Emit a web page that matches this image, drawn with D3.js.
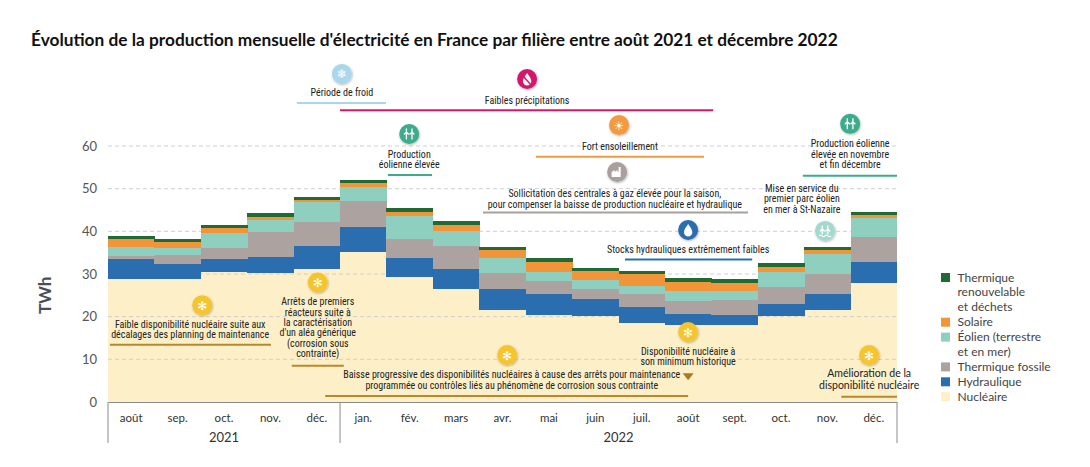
<!DOCTYPE html>
<html>
<head>
<meta charset="utf-8">
<script src="https://cdn.jsdelivr.net/npm/d3@7"></script>
<style>
  body { margin: 0; background: #fff; }
  svg text { font-family: Lato, "Noto Sans", sans-serif; }
  .ann { font-family: "Liberation Sans Narrow", "Roboto Condensed", "DejaVu Sans Condensed", sans-serif; font-stretch: condensed; font-size: 10px; fill: #222; }
  .ann2 { font-size: 10.5px; fill: #222; }
</style>
</head>
<body>
<div id="chart"></div>
<script>
// months, Aug 2021 -> Dec 2022
const months = ["août", "sep.", "oct.", "nov.", "déc.", "jan.", "fév.", "mars", "avr.", "mai",
  "juin", "juil.", "août", "sept.", "oct.", "nov.", "déc."];
const years = [{label: "2021", from: 0, to: 5}, {label: "2022", from: 5, to: 17}];
const yTicks = [0, 10, 20, 30, 40, 50, 60];

// TWh per month
const nucleaire   = [28.8, 28.8, 30.5, 30.2, 31.2, 35.1, 29.4, 26.6, 21.6, 20.4, 20.2, 18.6, 18.0, 18.0, 20.2, 21.6, 27.8];
const hydraulique = [4.6, 3.5, 2.9, 3.9, 5.4, 5.8, 4.4, 4.6, 5.0, 4.9, 3.9, 3.7, 2.6, 2.4, 2.8, 3.6, 5.1];
const fossile     = [0.9, 2.1, 2.6, 5.8, 5.7, 6.3, 4.4, 5.4, 3.6, 3.1, 2.5, 3.0, 3.1, 3.5, 3.9, 4.8, 5.8];
const eolien      = [2.1, 1.8, 3.5, 2.8, 4.5, 3.3, 5.5, 3.5, 3.6, 2.0, 2.0, 2.0, 2.2, 2.2, 3.5, 4.8, 4.5];
const solaire     = [1.9, 1.4, 1.2, 0.7, 0.5, 0.8, 0.9, 1.4, 1.8, 2.3, 2.1, 2.6, 2.3, 1.9, 1.2, 0.8, 0.6];
const renouv      = [0.7, 0.6, 0.9, 0.8, 0.8, 0.7, 0.8, 0.9, 0.8, 1.0, 0.6, 0.8, 0.8, 0.8, 0.9, 0.8, 0.8];

const series = [
  {key: "nucleaire", label: ["Nucléaire"], color: "#fdefc8", values: nucleaire},
  {key: "hydraulique", label: ["Hydraulique"], color: "#2b6eb0", values: hydraulique},
  {key: "fossile", label: ["Thermique fossile"], color: "#aca2a0", values: fossile},
  {key: "eolien", label: ["Éolien (terrestre", "et en mer)"], color: "#8fcfc0", values: eolien},
  {key: "solaire", label: ["Solaire"], color: "#f29538", values: solaire},
  {key: "renouv", label: ["Thermique", "renouvelable", "et déchets"], color: "#1f6a35", values: renouv}
];

// annotations, positioned in month units (x) and TWh (y)
const annotations = [
  {icon: "froid", color: "#a9d8ec", at: [5.04, 76.9], text: ["Période de froid"], textAt: [5.04, 71.7], rule: [4.07, 5.99, 70.1]},
  {icon: "nodrop", color: "#d6186c", at: [9.03, 75.7], text: ["Faibles précipitations"], textAt: [9.03, 69.8], rule: [5.0, 13.04, 68.4]},
  {icon: "wind", color: "#3dab8c", at: [6.49, 62.8], text: ["Production", "éolienne élevée"], textAt: [6.49, 57.3], rule: [6.03, 6.98, 53.2]},
  {icon: "sun", color: "#f39a3f", at: [11.01, 64.9], text: ["Fort ensoleillement"], textAt: [11.03, 59.1], rule: [9.22, 12.84, 57.5]},
  {icon: "factory", color: "#a9a09d", at: [10.97, 53.9], text: ["Sollicitation des centrales à  gaz élevée pour la saison,", "pour compenser la baisse de production nucléaire et hydraulique"], textAt: [10.92, 48.1], rule: [8.08, 13.79, 44.4], lh: 11},
  {icon: "drop", color: "#2b6eb0", at: [12.5, 40.3], text: ["Stocks hydrauliques extrêmement faibles"], textAt: [12.5, 34.9], rule: [11.14, 13.88, 33.4]},
  {icon: "wind", color: "#3dab8c", at: [15.99, 65.2], text: ["Production éolienne", "élevée en novembre", "et fin décembre"], textAt: [15.99, 59.8], rule: [14.97, 17.0, 53.0], lh: 10.8},
  {icon: "offshore", color: "#a3d9cf", at: [15.45, 40.1], text: ["Mise en service du", "premier parc éolien", "en mer à St-Nazaire"], textAt: [14.95, 49.3], lh: 10.8},
  {icon: "nuc", color: "#f6c52f", at: [2.03, 22.7], text: ["Faible disponibilité nucléaire suite aux", "décalages des planning de maintenance"], textAt: [1.77, 17.4], rule: [0.04, 3.51, 13.4], ruleColor: "#b8882c"},
  {icon: "nuc", color: "#f6c52f", at: [4.52, 28.0], text: ["Arrêts de premiers", "réacteurs suite à", "la caractérisation", "d'un aléa générique", "(corrosion sous", "contrainte)"], textAt: [4.52, 22.7], rule: [3.96, 5.08, 8.5], ruleColor: "#b8882c", lh: 10.4},
  {icon: "nuc", color: "#f6c52f", at: [8.6, 11.0], text: ["Baisse progressive des disponibilités nucléaires à cause des arrêts pour maintenance", "programmée ou contrôles liés au phénomène de corrosion sous contrainte"], textAt: [8.7, 5.55], rule: [4.68, 12.5, 1.4], ruleColor: "#b8882c", lh: 10.7},
  {icon: "nuc", color: "#f6c52f", at: [12.5, 16.4], text: ["Disponibilité nucléaire à", "son minimum historique"], textAt: [12.5, 11.0], arrow: [12.5, 5.9], lh: 10},
  {icon: "nuc", color: "#f6c52f", at: [16.4, 11.0], text: ["Amélioration de la", "disponibilité nucléaire"], textAt: [16.4, 5.75], rule: [15.8, 17.0, 1.25], ruleColor: "#b8882c", lh: 11.2, cls: "ann2"}
];

const W = 1090, H = 467;
const margin = {top: 146, right: 193, bottom: 65, left: 108};
const width = W - margin.left - margin.right;
const height = H - margin.top - margin.bottom;

const svg = d3.select("#chart").append("svg")
  .attr("width", W).attr("height", H);

const defs = svg.append("defs");
const shadow = defs.append("filter").attr("id", "shadow")
  .attr("x", "-50%").attr("y", "-50%").attr("width", "200%").attr("height", "200%");
shadow.append("feDropShadow").attr("dx", 0.6).attr("dy", 1).attr("stdDeviation", 0.9)
  .attr("flood-color", "#000").attr("flood-opacity", 0.3);

svg.append("text")
  .attr("x", 31).attr("y", 46)
  .style("font-size", "17.3px").style("font-weight", "bold").style("fill", "#111")
  .text("Évolution de la production mensuelle d'électricité en France par filière entre août 2021 et décembre 2022");

const g = svg.append("g").attr("transform", `translate(${margin.left},${margin.top})`);

const x = d3.scaleBand().domain(d3.range(months.length)).range([0, width]).padding(0);
const y = d3.scaleLinear().domain([0, 60]).range([height, 0]);
const xu = u => u * x.step();

const table = months.map((m, i) => {
  const row = {};
  series.forEach(s => { row[s.key] = s.values[i]; });
  return row;
});
const stacked = d3.stack().keys(series.map(s => s.key))(table);

function drawLayer(layer, s) {
  g.append("g").selectAll("rect")
    .data(layer)
    .join("rect")
    .attr("x", (d, i) => x(i))
    .attr("width", x.bandwidth() + 0.4)
    .attr("y", d => y(d[1]))
    .attr("height", d => y(d[0]) - y(d[1]))
    .attr("fill", s.color)
    .attr("shape-rendering", "crispEdges");
}

drawLayer(stacked[0], series[0]);

// dashed grid, above nuclear layer
g.append("g").selectAll("line")
  .data(yTicks.filter(t => t > 0))
  .join("line")
  .attr("x1", 0).attr("x2", width)
  .attr("y1", d => y(d)).attr("y2", d => y(d))
  .attr("stroke", "#cfcfcf").attr("stroke-dasharray", "4,3");

stacked.slice(1).forEach((layer, k) => drawLayer(layer, series[k + 1]));

// y axis
const yAxis = g.append("g")
  .call(d3.axisLeft(y).tickValues(yTicks).tickSize(0).tickPadding(11));
yAxis.select(".domain").remove();
yAxis.selectAll("text").style("font-size", "13px").style("fill", "#555").style("font-family", "Lato, sans-serif");

svg.append("text")
  .attr("transform", `translate(51,${margin.top + y(25)}) rotate(-90)`)
  .attr("text-anchor", "middle")
  .style("font-size", "17px").style("font-weight", "bold").style("fill", "#4a4e5a")
  .text("TWh");

// x axis
const xAxis = g.append("g").attr("transform", `translate(0,${height})`)
  .call(d3.axisBottom(x).tickFormat(i => months[i]).tickSize(0).tickPadding(12));
xAxis.select(".domain").attr("stroke", "#8a8a8a");
xAxis.selectAll("text").style("font-size", "11.5px").style("fill", "#333").style("font-family", "Lato, sans-serif");

const seps = [0, 5, 17];
g.append("g").selectAll("line")
  .data(seps)
  .join("line")
  .attr("x1", d => xu(d)).attr("x2", d => xu(d))
  .attr("y1", height).attr("y2", height + 41)
  .attr("stroke", "#8a8a8a");

g.append("g").selectAll("text")
  .data(years)
  .join("text")
  .attr("x", d => (xu(d.from) + xu(d.to)) / 2)
  .attr("y", height + 40)
  .attr("text-anchor", "middle")
  .style("font-size", "13px").style("fill", "#333")
  .text(d => d.label);

// legend
const legendItems = series.slice().reverse();
const legend = svg.append("g").attr("transform", "translate(941,272)");
let row = 0;
legendItems.forEach(s => {
  legend.append("rect")
    .attr("x", 0).attr("y", row * 14.9 + 1)
    .attr("width", 9).attr("height", 9)
    .attr("fill", s.color);
  s.label.forEach((line, j) => {
    legend.append("text")
      .attr("x", 16.5).attr("y", (row + j) * 14.9 + 9.5)
      .style("font-size", "12px").style("fill", "#444")
      .text(line);
  });
  row += s.label.length;
});

// icons
function drawIcon(sel, type) {
  const w = "#fff";
  if (type === "froid" || type === "nuc" || type === "sun") {
    const glyph = {froid: "\u2744", nuc: "\u273B", sun: "\u2600"}[type];
    sel.append("text").attr("text-anchor", "middle").attr("y", 4.5)
      .style("font-family", "DejaVu Sans, sans-serif").style("font-size", "12px").style("fill", w)
      .text(glyph);
  } else if (type === "drop" || type === "nodrop") {
    sel.append("path")
      .attr("d", "M0,-6 C2.5,-2.5 4.2,-0.2 4.2,2.2 A4.2,4.2 0 0 1 -4.2,2.2 C-4.2,-0.2 -2.5,-2.5 0,-6Z")
      .attr("fill", w);
    if (type === "nodrop") {
      sel.append("line").attr("x1", -4).attr("y1", -3).attr("x2", 4).attr("y2", 6)
        .attr("stroke", sel.datum().color).attr("stroke-width", 1.5);
    }
  } else if (type === "wind" || type === "offshore") {
    const base = type === "offshore" ? 3 : 5.5;
    [-2.8, 2.8].forEach(cx => {
      sel.append("path")
        .attr("d", `M${cx},${base} V-2 M${cx},-2 L${cx - 2.4},0.5 M${cx},-2 L${cx + 2.4},0.5 M${cx},-2 V-5.5`)
        .attr("stroke", w).attr("stroke-width", 1.3).attr("fill", "none");
    });
    if (type === "offshore") {
      sel.append("path").attr("d", "M-6,5 q1.5,-1.5 3,0 t3,0 t3,0 t3,0")
        .attr("stroke", w).attr("stroke-width", 1.1).attr("fill", "none");
    }
  } else if (type === "factory") {
    sel.append("path")
      .attr("d", "M-5.5,5 V0 L-2.5,-2 V0 L0.5,-2 V0 L1.5,0 V-5 H3.5 V5 Z")
      .attr("fill", w);
  }
}

const ann = g.append("g");
annotations.forEach(a => {
  const gr = ann.append("g").datum(a);
  if (a.rule) {
    gr.append("line")
      .attr("x1", xu(a.rule[0])).attr("x2", xu(a.rule[1]))
      .attr("y1", y(a.rule[2])).attr("y2", y(a.rule[2]))
      .attr("stroke", a.ruleColor || a.color).attr("stroke-width", 2);
  }
  if (a.arrow) {
    const ax = xu(a.arrow[0]), ay = y(a.arrow[1]);
    gr.append("path")
      .attr("d", `M${ax - 5.5},${ay - 3.5} L${ax + 5.5},${ay - 3.5} L${ax},${ay + 3.5} Z`)
      .attr("fill", "#a97a1f");
  }
  const lh = a.lh || 10;
  a.text.forEach((t, j) => {
    gr.append("text")
      .attr("class", a.cls || "ann")
      .attr("x", xu(a.textAt[0]))
      .attr("y", y(a.textAt[1]) + j * lh)
      .attr("text-anchor", "middle")
      .text(t);
  });
  const ic = gr.append("g").attr("transform", `translate(${xu(a.at[0])},${y(a.at[1])})`);
  ic.append("circle").attr("r", 10).attr("fill", a.color).attr("filter", "url(#shadow)");
  drawIcon(ic, a.icon);
});
</script>
</body>
</html>
